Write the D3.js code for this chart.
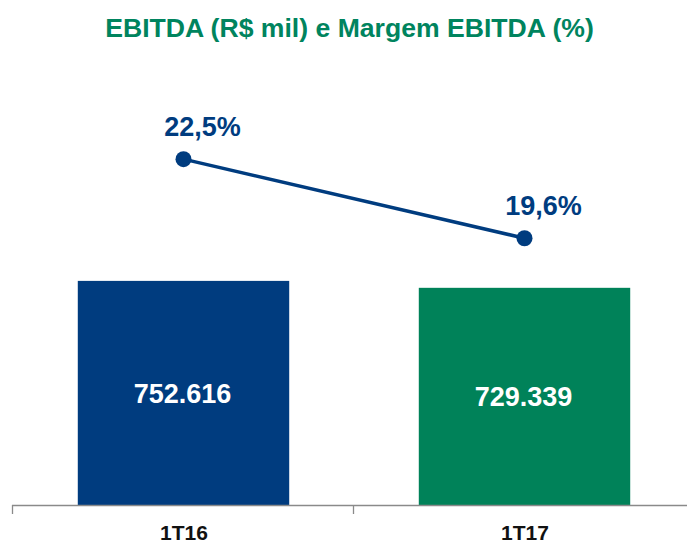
<!DOCTYPE html>
<html>
<head>
<meta charset="utf-8">
<script src="https://cdn.jsdelivr.net/npm/d3@7"></script>
<style>
  html, body { margin: 0; padding: 0; background: #fff; }
  svg { display: block; font-family: "Liberation Sans", Arial, sans-serif; }
</style>
</head>
<body>
<svg id="chart" width="687" height="544"></svg>
<script>
const categories = ["1T16", "1T17"];
const ebitda = [752616, 729339];
const ebitdaLabels = ["752.616", "729.339"];
const margin = [22.5, 19.6];
const marginLabels = ["22,5%", "19,6%"];
const barColors = ["#003C7F", "#008259"];

const svg = d3.select("#chart");

const x = d3.scaleBand().domain(categories).range([13, 695]).padding(0);
const barW = x.bandwidth() * 0.62;
const yBar = d3.scaleLinear().domain([0, 900000]).range([505, 237]);
const yLine = d3.scaleLinear().domain([10, 25]).range([500, 91]);
const cx = c => x(c) + x.bandwidth() / 2;

// Title
svg.append("text")
  .attr("x", 349.5).attr("y", 37)
  .attr("text-anchor", "middle")
  .attr("font-size", 26.6).attr("font-weight", "bold")
  .attr("fill", "#00845E")
  .text("EBITDA (R$ mil) e Margem EBITDA (%)");

// Bars
svg.selectAll("rect.bar").data(categories).join("rect")
  .attr("class", "bar")
  .attr("x", c => cx(c) - barW / 2)
  .attr("width", barW)
  .attr("y", (c, i) => yBar(ebitda[i]))
  .attr("height", (c, i) => yBar(0) - yBar(ebitda[i]))
  .attr("fill", (c, i) => barColors[i]);

// Bar labels
svg.selectAll("text.barlab").data(categories).join("text")
  .attr("class", "barlab")
  .attr("x", c => cx(c) - 1)
  .attr("y", (c, i) => (yBar(ebitda[i]) + yBar(0)) / 2)
  .attr("dy", "0.36em")
  .attr("text-anchor", "middle")
  .attr("font-size", 27).attr("font-weight", "bold")
  .attr("fill", "#fff")
  .text((c, i) => ebitdaLabels[i]);

// Axis
const axisG = svg.append("g");
axisG.append("line")
  .attr("x1", 12).attr("x2", 687)
  .attr("y1", yBar(0) + 0.5).attr("y2", yBar(0) + 0.5)
  .attr("stroke", "#8a8a8a").attr("stroke-width", 1.3);
axisG.selectAll("line.tick").data(categories).join("line")
  .attr("class", "tick")
  .attr("x1", c => Math.round(x(c)) - 0.5).attr("x2", c => Math.round(x(c)) - 0.5)
  .attr("y1", yBar(0)).attr("y2", yBar(0) + 9)
  .attr("stroke", "#8a8a8a").attr("stroke-width", 1.3);
axisG.selectAll("text.cat").data(categories).join("text")
  .attr("class", "cat")
  .attr("x", c => cx(c) + 0.5)
  .attr("y", 540)
  .attr("text-anchor", "middle")
  .attr("font-size", 21).attr("font-weight", "bold")
  .attr("fill", "#111")
  .text(c => c);

// Line
const line = d3.line()
  .x((d, i) => cx(categories[i]))
  .y(d => yLine(d));
svg.append("path")
  .datum(margin)
  .attr("d", line)
  .attr("fill", "none")
  .attr("stroke", "#003C7F")
  .attr("stroke-width", 3.5);

svg.selectAll("circle.pt").data(margin).join("circle")
  .attr("class", "pt")
  .attr("cx", (d, i) => cx(categories[i]))
  .attr("cy", d => yLine(d))
  .attr("r", 8)
  .attr("fill", "#003C7F");

svg.selectAll("text.pctlab").data(margin).join("text")
  .attr("class", "pctlab")
  .attr("x", (d, i) => cx(categories[i]) + 19)
  .attr("y", d => yLine(d) - 23)
  .attr("text-anchor", "middle")
  .attr("font-size", 27).attr("font-weight", "bold")
  .attr("fill", "#003C7F")
  .text((d, i) => marginLabels[i]);
</script>
</body>
</html>
